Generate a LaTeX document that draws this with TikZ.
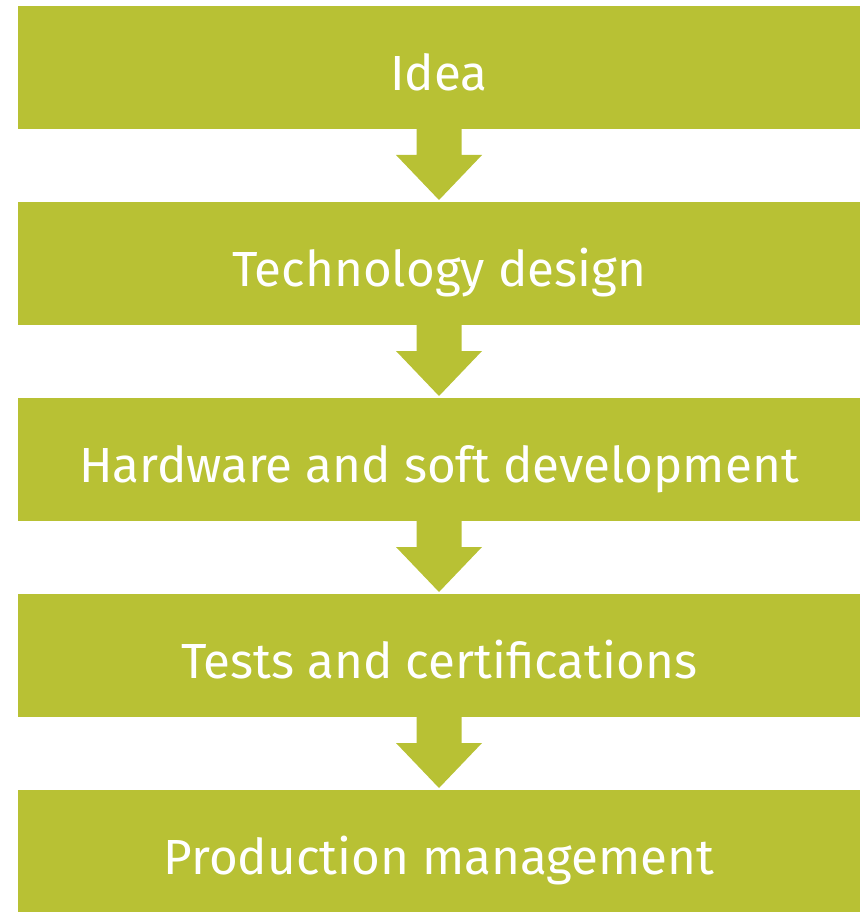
\documentclass[tikz,border=0pt]{standalone}
\usepackage{fontspec}
\setmainfont{Fira Sans}
\usetikzlibrary{calc}
\definecolor{leaf}{HTML}{B8C134}
\begin{document}
\begin{tikzpicture}[x=0.75pt,y=-0.75pt,
  stepbox/.style={rectangle,fill=leaf,draw=none,inner sep=0pt,outer sep=0pt,
    minimum width=631.5pt,minimum height=92.25pt,text=white,
    text height=34pt,text depth=0pt,
    font=\fontsize{37}{40}\selectfont},
  flowarrow/.style={fill=leaf,draw=none}]
\useasboundingbox (0,0) rectangle (864,912);
\clip (0,0) rectangle (864,912);
\node[stepbox] (s1) at (439,67.5) {Idea};
\node[stepbox] (s2) at (439,263.5) {Technology design};
\node[stepbox] (s3) at (439,459.5) {Hardware and soft development};
\node[stepbox] (s4) at (439,655.5) {Tests and certifications};
\node[stepbox] (s5) at (439,851.5) {Production management};
\foreach \a/\b in {s1/s2,s2/s3,s3/s4,s4/s5}{
  \fill[flowarrow]
    ($(\a.south)+(-22.5,-1)$) -- ($(\a.south)+(22.5,-1)$)
    -- ($(\a.south)+(22.5,26)$) -- ($(\a.south)+(43,26)$)
    -- ($(\b.north)+(0,-2)$)
    -- ($(\a.south)+(-43,26)$) -- ($(\a.south)+(-22.5,26)$) -- cycle;
}
\end{tikzpicture}
\end{document}
